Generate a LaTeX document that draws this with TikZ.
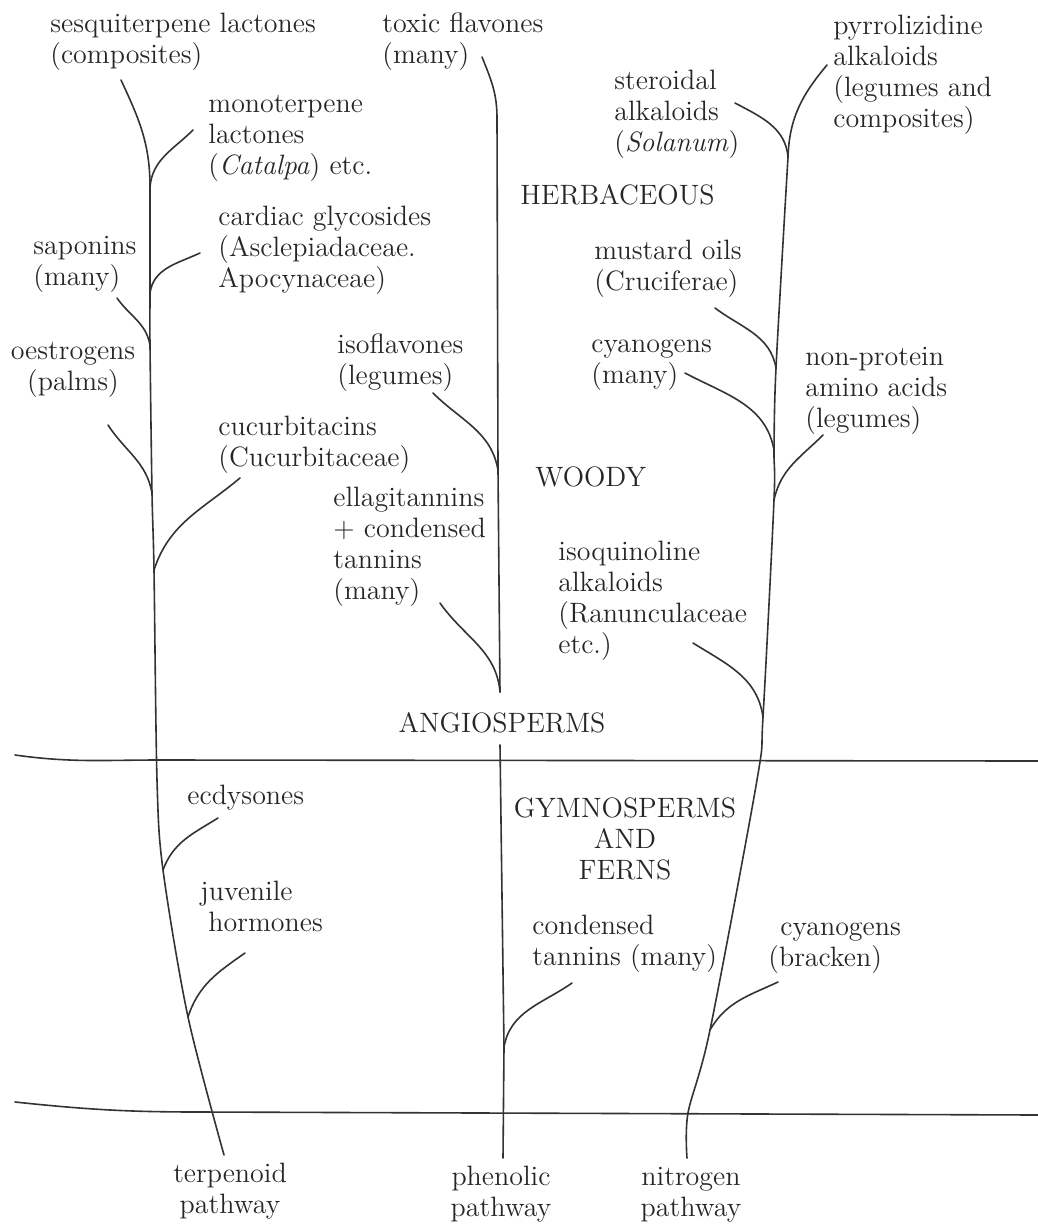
\documentclass[tikz,border=0pt]{standalone}
\usepackage{fontspec}
\usepackage{tikz}
\usetikzlibrary{positioning,calc}
\tikzstyle{branch} = [draw, line width=0.8pt, black!80, line cap=round]
\tikzstyle{compound} = [inner sep=0pt, align=left, anchor=base west, text=black!85]
\tikzstyle{centred} = [inner sep=0pt, align=center, anchor=base, text=black!85]

\begin{document}
\begin{tikzpicture}[x=0.5pt, y=-0.5pt, font=\fontsize{14}{15.5}\selectfont]
\useasboundingbox (0,0) rectangle (1038,1232);

% horizontal divisions
\coordinate (hl1) at (15,755);
\coordinate (hm1) at (160,760);
\coordinate (hr1) at (1038,761);
\coordinate (hl2) at (15,1102);
\coordinate (hm2) at (200,1112);
\coordinate (hr2) at (1038,1115);
\draw [branch] (hl1) to[out=-8,in=180] (hm1) -- (hr1);
\draw [branch] (hl2) to[out=-6,in=180] (hm2) -- (hr2);

% group names (base = last line)
\node (herb) [compound] at (520,204) {HERBACEOUS};
\node (wood) [compound] at (535,486) {WOODY};
\node (angio) [centred] at (502,732) {ANGIOSPERMS};
\node (gymno) [centred] at (625,879) {GYMNOSPERMS\\AND\\FERNS};

% terpenoid pathway
\node (terp) [centred] at (230,1213) {terpenoid\\pathway};
\node (sesq) [compound] at (50,63) {sesquiterpene lactones\\(composites)};
\node (mono) [compound] at (208,174) {monoterpene\\lactones\\(\textit{Catalpa}) etc.};
\node (card) [compound] at (218,287) {cardiac glycosides\\(Asclepiadaceae.\\Apocynaceae)};
\node (sapo) [compound] at (33,285) {saponins\\(many)};
\node (oest) [centred] at (73,390) {oestrogens\\(palms)};
\node (cucu) [compound] at (218,466) {cucurbitacins\\(Cucurbitaceae)};
\node (ecdy) [compound] at (187,804) {ecdysones};
\node (juve) [compound] at (200,931) {juvenile\\\hspace{4pt}hormones};

\coordinate (tb) at (224,1155);
\coordinate (tj7) at (188,1017);
\coordinate (tj6) at (163,870);
\coordinate (tm) at (157,780);
\coordinate (tj5) at (154,570);
\coordinate (tj4) at (152,493);
\coordinate (tj3) at (150,345);
\coordinate (tj2) at (150,293);
\coordinate (tj1) at (150,187);
\coordinate (tt) at (121,80);
\draw [branch] plot [smooth, tension=0.5] coordinates {(tb) (tj7) (tj6) (tm) (tj5) (tj4) (tj3) (tj2) (tj1)}
  to[out=90,in=-65] (tt);

\coordinate (monoend) at (193,130);
\coordinate (cardend) at (200,253);
\coordinate (sapoend) at (117,298);
\coordinate (oestend) at (108,425);
\coordinate (cucuend) at (240,478);
\coordinate (ecdyend) at (218,818);
\coordinate (juveend) at (245,953);
\path [branch] (tj1) to[out=85,in=-135] (monoend);
\path [branch] (tj2) to[out=82,in=-155] (cardend);
\path [branch] (sapoend) to[out=-55,in=100] (tj3);
\path [branch] (oestend) to[out=-57,in=100] (tj4);
\path [branch] (tj5) to[out=72,in=-140] (cucuend);
\path [branch] (tj6) to[out=70,in=-148] (ecdyend);
\path [branch] (tj7) to[out=72,in=-145] (juveend);

% phenolic pathway
\node (phen) [centred] at (501,1216) {phenolic\\pathway};
\node (toxi) [compound] at (382,63) {toxic flavones\\(many)};
\node (isof) [compound] at (337,384) {isoflavones\\(legumes)};
\node (ella) [compound] at (333,599) {ellagitannins\\+ condensed\\tannins\\(many)};
\node (cond) [compound] at (532,965) {condensed\\tannins (many)};

\coordinate (pa) at (500,692);
\coordinate (pj1) at (498,470);
\coordinate (pv) at (497,118);
\coordinate (pt) at (482,57);
\coordinate (pl) at (500,745);
\coordinate (pj2) at (504,1047);
\coordinate (pb) at (503,1158);
\draw [branch] (pa) -- (pj1) -- (pv) to[out=90,in=-68] (pt);
\draw [branch] (pl) -- (pj2) -- (pb);

\coordinate (isofend) at (433,393);
\coordinate (ellaend) at (440,603);
\coordinate (condend) at (572,983);
\path [branch] (isofend) to[out=-45,in=100] (pj1);
\path [branch] (ellaend) to[out=-55,in=95] (pa);
\path [branch] (pj2) to[out=80,in=-145] (condend);

% nitrogen pathway
\node (nitr) [centred] at (691,1216) {nitrogen\\pathway};
\node (pyrr) [compound] at (833,127) {pyrrolizidine\\alkaloids\\(legumes and\\composites)};
\node (ster) [compound] at (614,151) {steroidal\\alkaloids\\(\textit{Solanum})};
\node (must) [compound] at (594,290) {mustard oils\\(Cruciferae)};
\node (cyan) [compound] at (591,383) {cyanogens\\(many)};
\node (nonp) [compound] at (805,427) {non-protein\\amino acids\\(legumes)};
\node (isoq) [compound] at (558,653) {isoquinoline\\alkaloids\\(Ranunculaceae\\etc.)};
\node (brac) [compound] at (768,966) {\hspace{6pt}cyanogens\\(bracken)};

\coordinate (nb) at (687,1158);
\coordinate (nm2) at (688,1113);
\coordinate (nj6) at (710,1030);
\coordinate (nm1) at (757,780);
\coordinate (nj5) at (763,717);
\coordinate (nj4) at (774,500);
\coordinate (nj3) at (774,450);
\coordinate (nj2) at (776,368);
\coordinate (nj1) at (788,157);
\draw [branch] plot [smooth, tension=0.5] coordinates {(nb) (nm2) (nj6) (nm1) (nj5) (nj4) (nj3) (nj2) (nj1)};

\coordinate (pyrrend) at (827,65);
\coordinate (sterend) at (735,103);
\coordinate (mustend) at (715,308);
\coordinate (cyanend) at (685,373);
\coordinate (nonpend) at (823,435);
\coordinate (isoqend) at (693,643);
\coordinate (bracend) at (778,982);
\path [branch] (nj1) to[out=88,in=-130] (pyrrend);
\path [branch] (sterend) to[out=-28,in=95] (nj1);
\path [branch] (mustend) to[out=-37,in=100] (nj2);
\path [branch] (cyanend) to[out=-28,in=100] (nj3);
\path [branch] (nj4) to[out=78,in=-135] (nonpend);
\path [branch] (isoqend) to[out=-32,in=98] (nj5);
\path [branch] (nj6) to[out=60,in=-155] (bracend);

\end{tikzpicture}
\end{document}
